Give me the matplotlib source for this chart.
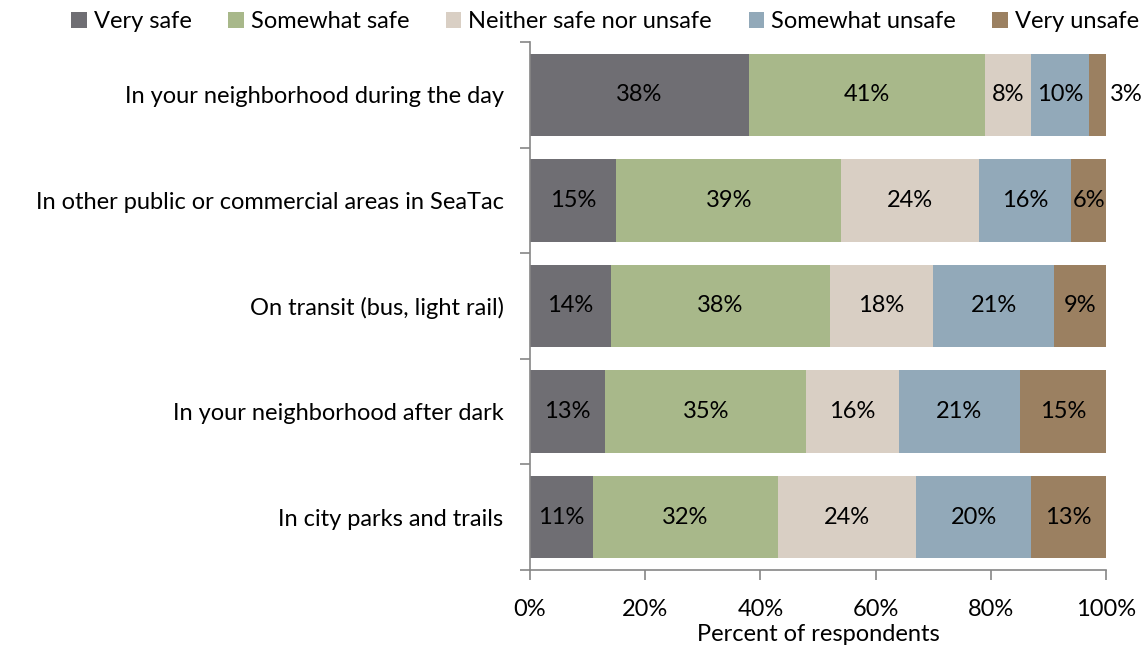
import matplotlib
matplotlib.use("Agg")
import matplotlib.pyplot as plt
import numpy as np

plt.rcParams['font.family'] = ['Lato', 'DejaVu Sans']

categories = [
    "In your neighborhood during the day",
    "In other public or commercial areas in SeaTac",
    "On transit (bus, light rail)",
    "In your neighborhood after dark",
    "In city parks and trails",
]
series_names = ["Very safe", "Somewhat safe", "Neither safe nor unsafe",
                "Somewhat unsafe", "Very unsafe"]
very_safe = [38, 15, 14, 13, 11]
somewhat_safe = [41, 39, 38, 35, 32]
neither = [8, 24, 18, 16, 24]
somewhat_unsafe = [10, 16, 21, 21, 20]
very_unsafe = [3, 6, 9, 15, 13]
x_ticks = [0, 20, 40, 60, 80, 100]
x_tick_labels = ["0%", "20%", "40%", "60%", "80%", "100%"]

colors = ["#6f6e73", "#a8b88a", "#d9cfc4", "#92a9b9", "#9b8061"]
axis_color = "#868686"
fs = 17

fig = plt.figure(figsize=(11.48, 6.55), dpi=100)
ax = fig.add_axes([530 / 1148, 1 - 570 / 655, 576 / 1148, 528 / 655])

series = [very_safe, somewhat_safe, neither, somewhat_unsafe, very_unsafe]
y = np.arange(len(categories))
left = np.zeros(len(categories))
for name, vals, col in zip(series_names, series, colors):
    vals = np.array(vals, dtype=float)
    ax.barh(y, vals, left=left, height=0.78, color=col, label=name,
            edgecolor='none')
    for yi, (l, v) in enumerate(zip(left, vals)):
        if v >= 5:
            ax.text(l + v / 2, yi, f"{int(v)}%", ha='center', va='center',
                    fontsize=fs, color='black')
        else:
            ax.text(l + v + 0.6, yi, f"{int(v)}%", ha='left', va='center',
                    fontsize=fs, color='black')
    left = left + vals

ax.set_xlim(0, 100)
ax.set_ylim(len(categories) - 0.5, -0.5)
ax.set_yticks(y)
ax.set_yticklabels(categories, fontsize=fs)
ax.set_yticks(np.arange(-0.5, len(categories)), minor=True)
ax.tick_params(axis='y', which='major', length=0, pad=19)
ax.tick_params(axis='y', which='minor', length=7, color=axis_color, width=1.2)
ax.set_xticks(x_ticks)
ax.set_xticklabels(x_tick_labels, fontsize=fs)
ax.tick_params(axis='x', length=7, color=axis_color, width=1.2, pad=14)
ax.set_xlabel("Percent of respondents", fontsize=fs, labelpad=3)

for s in ['top', 'right']:
    ax.spines[s].set_visible(False)
for s in ['left', 'bottom']:
    ax.spines[s].set_color(axis_color)
    ax.spines[s].set_linewidth(1.2)

fig.legend(loc='upper left', bbox_to_anchor=(62 / 1148, 1 - 2 / 655), ncol=5,
           frameon=False, fontsize=fs, handlelength=0.65, handleheight=0.65,
           handletextpad=0.3, columnspacing=1.55, borderaxespad=0)

fig.savefig("out.png", dpi=100)
